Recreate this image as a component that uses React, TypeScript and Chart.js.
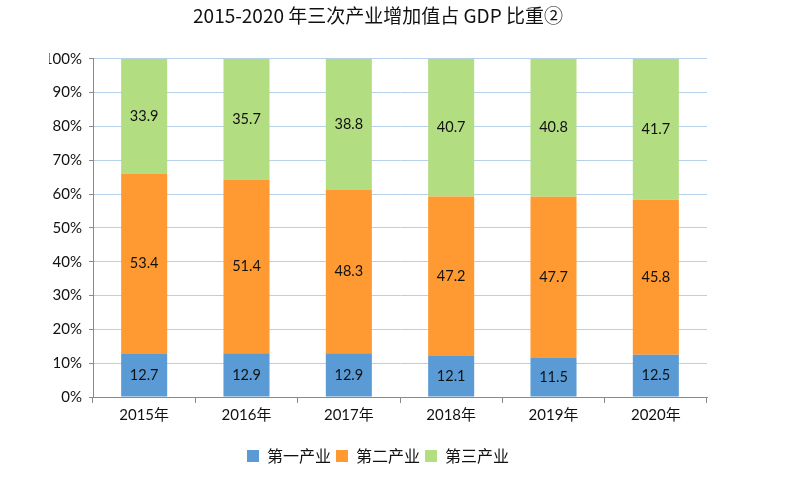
import { useEffect, useRef } from "react";
import { Chart, registerables } from "chart.js";

Chart.register(...registerables);

const categories = ["2015年", "2016年", "2017年", "2018年", "2019年", "2020年"];
const seriesNames = ["第一产业", "第二产业", "第三产业"];
const primaryValues = [12.7, 12.9, 12.9, 12.1, 11.5, 12.5];
const secondaryValues = [53.4, 51.4, 48.3, 47.2, 47.7, 45.8];
const tertiaryValues = [33.9, 35.7, 38.8, 40.7, 40.8, 41.7];
const seriesColors = ["#5b9bd5", "#ff9a32", "#b3dd81"];
const titleText = "2015-2020 年三次产业增加值占 GDP 比重②";

const NUM_FONT = "Lato, 'Noto Sans CJK SC', sans-serif";
const CJK_FONT = "'Noto Sans CJK SC', sans-serif";
const AXIS_GREY = "#8a8a8a";
const GRID_BLUE = "#b6d0ea";

const valueLabels = {
  id: "valueLabels",
  afterDatasetsDraw(chart: any) {
    const ctx = chart.ctx;
    ctx.save();
    ctx.font = `14.5px ${NUM_FONT}`;
    ctx.fillStyle = "#111";
    ctx.textAlign = "center";
    ctx.textBaseline = "middle";
    chart.data.datasets.forEach((ds: any, i: number) => {
      const meta = chart.getDatasetMeta(i);
      meta.data.forEach((el: any, j: number) => {
        const p = el.getProps(["x", "y", "base"], true);
        ctx.fillText(ds.data[j].toFixed(1), p.x, (p.y + p.base) / 2);
      });
    });
    ctx.restore();
  },
};

export default function App() {
  const ref = useRef<HTMLCanvasElement | null>(null);

  useEffect(() => {
    document.body.style.margin = "0";
    if (!ref.current) return;
    const chart = new Chart(ref.current, {
      type: "bar",
      data: {
        labels: categories,
        datasets: [
          { label: seriesNames[0], data: primaryValues, backgroundColor: seriesColors[0] },
          { label: seriesNames[1], data: secondaryValues, backgroundColor: seriesColors[1] },
          { label: seriesNames[2], data: tertiaryValues, backgroundColor: seriesColors[2] },
        ],
      },
      options: {
        responsive: false,
        animation: false,
        layout: { padding: { left: 49, right: 93, top: 0, bottom: 7 } },
        datasets: {
          bar: { categoryPercentage: 1, barPercentage: 0.45, borderWidth: 0 },
        },
        scales: {
          x: {
            stacked: true,
            offset: true,
            grid: {
              offset: true,
              drawOnChartArea: false,
              drawTicks: true,
              tickLength: 6,
              tickColor: AXIS_GREY,
            },
            border: { color: AXIS_GREY, width: 1 },
            ticks: { color: "#111", padding: 3, font: { size: 15, family: NUM_FONT } },
            afterFit: (s: any) => {
              s.height = 46;
            },
          },
          y: {
            stacked: true,
            min: 0,
            max: 100,
            grid: {
              color: (c: any) => (c.tick && c.tick.value === 0 ? AXIS_GREY : GRID_BLUE),
              tickColor: AXIS_GREY,
              tickLength: 4,
            },
            border: { color: AXIS_GREY, width: 1 },
            ticks: {
              stepSize: 10,
              color: "#111",
              padding: 7,
              font: { size: 15, family: NUM_FONT },
              callback: (v: any) => `${v}%`,
            },
            afterFit: (s: any) => {
              s.width = 44;
            },
          },
        },
        plugins: {
          title: {
            display: true,
            text: titleText,
            color: "#111",
            font: { size: 19, family: CJK_FONT, weight: "normal" },
            padding: { top: 4, bottom: 32 },
          },
          legend: {
            display: true,
            position: "bottom",
            labels: {
              color: "#111",
              boxWidth: 12,
              boxHeight: 12,
              padding: 5,
              font: { size: 16, family: CJK_FONT },
            },
          },
          tooltip: { enabled: false },
        },
      },
      plugins: [valueLabels],
    });
    return () => chart.destroy();
  }, []);

  return (
    <div style={{ position: "absolute", left: 0, top: 0, width: 800, height: 481, background: "#fff" }}>
      <canvas ref={ref} width={800} height={481} />
    </div>
  );
}
